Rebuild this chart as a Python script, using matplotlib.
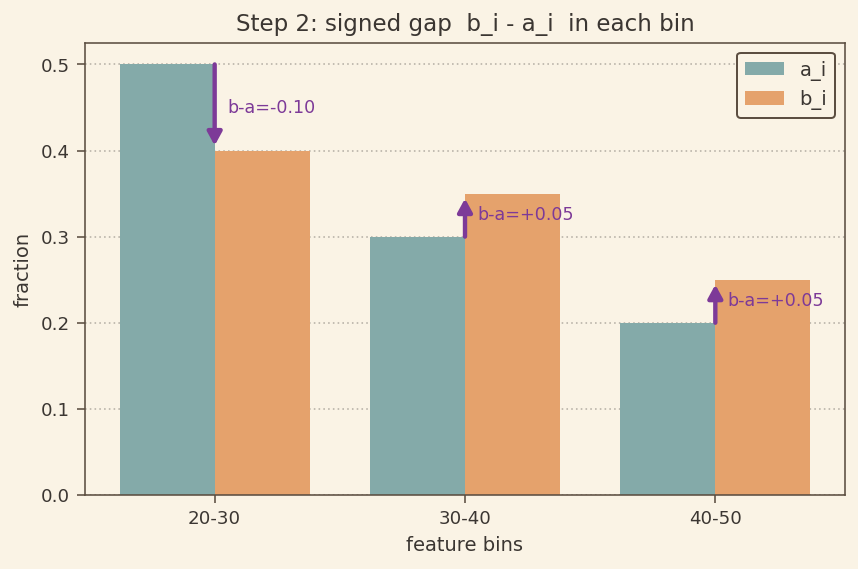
import matplotlib
matplotlib.use("Agg")
import matplotlib.pyplot as plt
import numpy as np

bins = ["20-30", "30-40", "40-50"]
a_vals = [0.50, 0.30, 0.20]
b_vals = [0.40, 0.35, 0.25]

bg = "#faf3e5"
txt = "#3b3632"
spine = "#5b4d40"
teal = "#84aaa9"
orange = "#e5a26c"
purple = "#7d3a98"

plt.rcParams["font.family"] = ["DejaVu Sans"]
fig = plt.figure(figsize=(6, 3.98), dpi=143, facecolor=bg)
ax = fig.add_axes([85/858, 1-495/569, (845-85)/858, (495-43)/569])
ax.set_facecolor(bg)

x = np.arange(len(bins))
w = 0.38
ax.bar(x - w/2, a_vals, w, color=teal, label="a_i", zorder=2)
ax.bar(x + w/2, b_vals, w, color=orange, label="b_i", zorder=2)

for i in range(len(bins)):
    d = b_vals[i] - a_vals[i]
    ax.annotate("", xy=(x[i], b_vals[i]), xytext=(x[i], a_vals[i]),
                arrowprops=dict(arrowstyle="-|>,head_length=0.55,head_width=0.3",
                                color=purple, lw=2.2, shrinkA=0, shrinkB=2.5), zorder=4)
    ax.text(x[i] + 0.05, (a_vals[i] + b_vals[i]) / 2, f"b-a={d:+.2f}",
            color=purple, fontsize=8.8, va="center", ha="left", zorder=5)

ax.set_ylim(0, 0.525)
ax.set_xticks(x)
ax.set_xticklabels(bins)
ax.set_yticks([0, 0.1, 0.2, 0.3, 0.4, 0.5])
ax.yaxis.grid(True, linestyle=(0, (1, 2)), color="#b5afa5", lw=0.8, zorder=0)
ax.set_axisbelow(True)
ax.tick_params(colors=spine, labelcolor=txt, labelsize=9.2, length=4)
for s in ax.spines.values():
    s.set_color(spine)
ax.set_xlabel("feature bins", color=txt, fontsize=9.8)
ax.set_ylabel("fraction", color=txt, fontsize=9.8)
ax.set_title("Step 2: signed gap  b_i - a_i  in each bin", color=txt, fontsize=11.6, pad=6)
leg = ax.legend(loc="upper right", fontsize=9.8, frameon=True, fancybox=True)
leg.get_frame().set_edgecolor(spine)
leg.get_frame().set_facecolor(bg)
leg.get_frame().set_alpha(1)
leg.get_frame().set_linewidth(1.0)
for t in leg.get_texts():
    t.set_color(txt)

fig.savefig("out.png", dpi=143, facecolor=bg)
